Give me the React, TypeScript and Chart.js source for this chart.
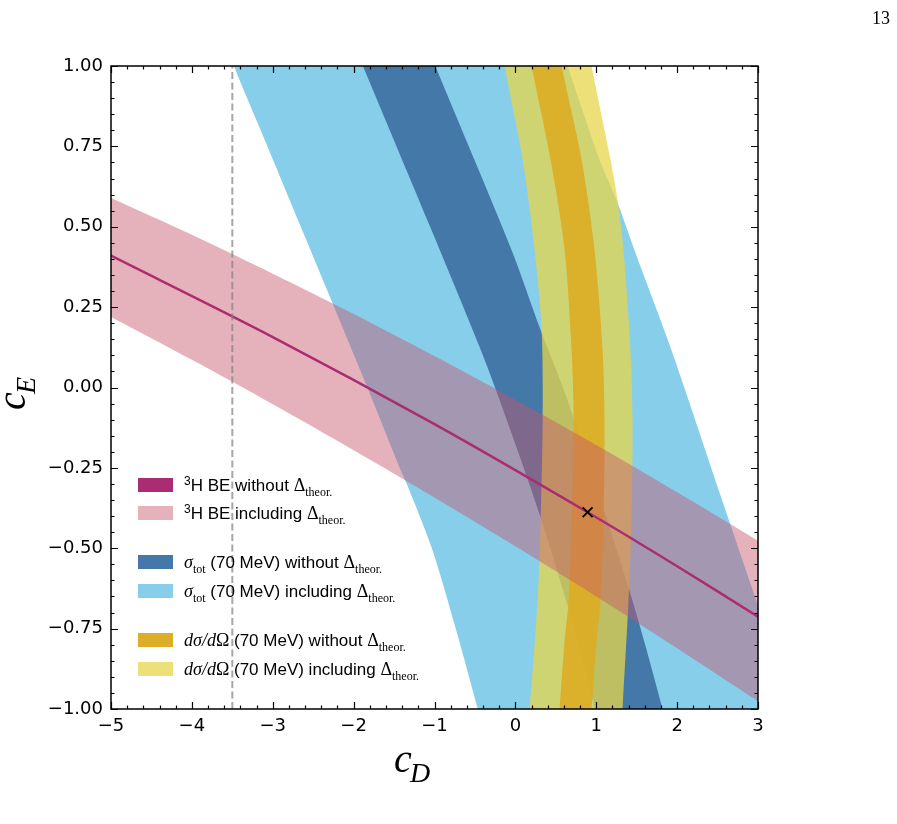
import React, { useEffect, useRef } from "react";
import { Chart, registerables } from "chart.js";
Chart.register(...registerables);

// ---- Data (cD, cE) ----
const xTicks = [-5, -4, -3, -2, -1, 0, 1, 2, 3];
const yTicks = [-1, -0.75, -0.5, -0.25, 0, 0.25, 0.5, 0.75, 1];

// sigma_tot including theory error (light blue): left edge top->bottom, right edge bottom->top
const sigmaInclLeft = [
  { x: -3.54, y: 1.05 }, { x: -3.48, y: 1.0 }, { x: -3.065, y: 0.75 }, { x: -2.653, y: 0.5 },
  { x: -2.24, y: 0.25 }, { x: -1.83, y: 0.0 }, { x: -1.43, y: -0.25 }, { x: -1.342, y: -0.3 },
  { x: -1.033, y: -0.5 }, { x: -0.737, y: -0.75 }, { x: -0.465, y: -1.0 }, { x: -0.42, y: -1.05 },
];
const sigmaInclRight = [
  { x: 3.5, y: -1.05 }, { x: 2.991, y: -0.672 }, { x: 2.559, y: -0.352 }, { x: 1.93, y: 0.116 },
  { x: 1.473, y: 0.427 }, { x: 1.251, y: 0.583 }, { x: 1.041, y: 0.708 }, { x: 0.646, y: 1.0 }, { x: 0.58, y: 1.05 },
];
// sigma_tot without theory error (dark blue)
const sigmaLeft = [
  { x: -1.93, y: 1.03 }, { x: -1.885, y: 1.0 }, { x: -1.054, y: 0.5 }, { x: -0.441, y: 0.125 },
  { x: -0.194, y: -0.04 }, { x: 0.306, y: -0.4 }, { x: 0.769, y: -0.787 }, { x: 0.979, y: -0.999 }, { x: 0.99, y: -1.03 },
];
const sigmaRight = [
  { x: 1.83, y: -1.03 }, { x: 1.819, y: -0.999 }, { x: 1.411, y: -0.632 }, { x: 0.646, y: -0.04 },
  { x: 0.3, y: 0.187 }, { x: -0.046, y: 0.427 }, { x: -0.99, y: 1.0 }, { x: -1.03, y: 1.03 },
];
// dsigma/dOmega including theory error (light yellow)
const dsdoInclLeft = [
  { x: -0.14, y: 1.03 }, { x: -0.132, y: 1.0 }, { x: 0.09, y: 0.708 }, { x: 0.238, y: 0.427 }, { x: 0.325, y: 0.178 },
  { x: 0.337, y: -0.102 }, { x: 0.312, y: -0.414 }, { x: 0.275, y: -0.663 }, { x: 0.177, y: -0.999 }, { x: 0.17, y: -1.03 },
];
const dsdoInclRight = [
  { x: 1.32, y: -1.03 }, { x: 1.325, y: -0.999 }, { x: 1.399, y: -0.663 }, { x: 1.436, y: -0.414 }, { x: 1.448, y: -0.102 },
  { x: 1.423, y: 0.116 }, { x: 1.337, y: 0.427 }, { x: 1.263, y: 0.583 }, { x: 1.177, y: 0.708 }, { x: 0.942, y: 1.0 }, { x: 0.93, y: 1.03 },
];
// dsigma/dOmega without theory error (gold)
const dsdoLeft = [
  { x: 0.19, y: 1.03 }, { x: 0.201, y: 1.0 }, { x: 0.436, y: 0.708 }, { x: 0.609, y: 0.427 }, { x: 0.695, y: 0.116 },
  { x: 0.72, y: -0.102 }, { x: 0.695, y: -0.414 }, { x: 0.658, y: -0.663 }, { x: 0.609, y: -0.787 }, { x: 0.547, y: -0.999 }, { x: 0.54, y: -1.03 },
];
const dsdoRight = [
  { x: 0.935, y: -1.03 }, { x: 0.942, y: -0.999 }, { x: 1.004, y: -0.787 }, { x: 1.053, y: -0.663 }, { x: 1.09, y: -0.414 },
  { x: 1.102, y: -0.102 }, { x: 1.078, y: 0.116 }, { x: 0.979, y: 0.427 }, { x: 0.819, y: 0.708 }, { x: 0.572, y: 1.0 }, { x: 0.56, y: 1.03 },
];
// 3H binding energy band (pink): upper edge left->right, lower edge right->left
const beInclUpper = [
  { x: -5.2, y: 0.612 }, { x: -4, y: 0.475 }, { x: -3, y: 0.354 }, { x: -2, y: 0.229 }, { x: -1, y: 0.098 },
  { x: 0, y: -0.038 }, { x: 1, y: -0.179 }, { x: 2, y: -0.326 }, { x: 3, y: -0.477 }, { x: 3.2, y: -0.508 },
];
const beInclLower = [
  { x: 3.2, y: -1.01 }, { x: 3, y: -0.976 }, { x: 2, y: -0.811 }, { x: 1, y: -0.65 }, { x: 0, y: -0.494 },
  { x: -1, y: -0.342 }, { x: -2, y: -0.195 }, { x: -3, y: -0.052 }, { x: -4, y: 0.086 }, { x: -5.2, y: 0.246 },
];
// 3H binding energy central line
const beLine = [
  { x: -5, y: 0.41 }, { x: -3, y: 0.157 }, { x: -1, y: -0.114 }, { x: 0.893, y: -0.388 }, { x: 2, y: -0.556 }, { x: 3, y: -0.713 },
];
const cutLine = [{ x: -3.5, y: -1 }, { x: -3.5, y: 1 }];
const bestFit = [{ x: 0.893, y: -0.388 }];

// ---- Styles ----
const C_LB = "rgb(135,206,235)";
const C_DB = "rgb(68,120,168)";
const C_YL = "rgba(231,214,75,0.75)";
const C_GD = "rgba(220,172,36,0.92)";
const C_PK = "rgba(198,84,107,0.45)";
const C_LINE = "rgb(170,45,115)";

const SANS = "'Liberation Sans', Arial, sans-serif";
const SERIF = "'Liberation Serif', 'DejaVu Serif', serif";

type Run = { t: string; f: string; dy?: number };
const DELTA: Run[] = [
  { t: "Δ", f: `18px ${SERIF}` },
  { t: "theor.", f: `12px ${SERIF}`, dy: 5 },
];
const legendLabels: Run[][] = [
  [{ t: "3", f: `12px ${SANS}`, dy: -6 }, { t: "H BE without ", f: `17px ${SANS}` }, ...DELTA],
  [{ t: "3", f: `12px ${SANS}`, dy: -6 }, { t: "H BE including ", f: `17px ${SANS}` }, ...DELTA],
  [{ t: "σ", f: `italic 18px ${SERIF}` }, { t: "tot", f: `12px ${SERIF}`, dy: 5 }, { t: " (70 MeV) without ", f: `17px ${SANS}` }, ...DELTA],
  [{ t: "σ", f: `italic 18px ${SERIF}` }, { t: "tot", f: `12px ${SERIF}`, dy: 5 }, { t: " (70 MeV) including ", f: `17px ${SANS}` }, ...DELTA],
  [{ t: "dσ/d", f: `italic 18px ${SERIF}` }, { t: "Ω", f: `18px ${SERIF}` }, { t: " (70 MeV) without ", f: `17px ${SANS}` }, ...DELTA],
  [{ t: "dσ/d", f: `italic 18px ${SERIF}` }, { t: "Ω", f: `18px ${SERIF}` }, { t: " (70 MeV) including ", f: `17px ${SANS}` }, ...DELTA],
];
const legendColors = [C_LINE, "rgb(229,178,188)", C_DB, C_LB, "rgb(220,174,40)", "rgb(237,224,120)"];
const legendRowsY = [485, 513, 562, 591, 640, 669];

function drawRuns(ctx: CanvasRenderingContext2D, runs: Run[], x: number, y: number) {
  let cx = x;
  for (const r of runs) {
    ctx.font = r.f;
    ctx.fillText(r.t, cx, y + (r.dy || 0));
    cx += ctx.measureText(r.t).width;
  }
}

const fmtMinus = (s: string) => s.replace("-", "\u2212");

const decorPlugin = {
  id: "decor",
  afterDraw(chart: any) {
    const ctx: CanvasRenderingContext2D = chart.ctx;
    const { left, right, top, bottom } = chart.chartArea;
    const xs = chart.scales.x;
    const ys = chart.scales.y;
    ctx.save();
    // frame
    ctx.strokeStyle = "#000";
    ctx.lineWidth = 1.5;
    ctx.strokeRect(left, top, right - left, bottom - top);
    // inward ticks
    ctx.lineWidth = 1.2;
    ctx.beginPath();
    for (let i = 0; i <= 40; i++) {
      const v = -5 + i * 0.2;
      const px = Math.round(xs.getPixelForValue(v)) + 0.5;
      const len = i % 5 === 0 ? 7 : 3.5;
      ctx.moveTo(px, bottom); ctx.lineTo(px, bottom - len);
      ctx.moveTo(px, top); ctx.lineTo(px, top + len);
    }
    for (let i = 0; i <= 40; i++) {
      const v = -1 + i * 0.05;
      const py = Math.round(ys.getPixelForValue(v)) + 0.5;
      const len = i % 5 === 0 ? 7 : 3.5;
      ctx.moveTo(left, py); ctx.lineTo(left + len, py);
      ctx.moveTo(right, py); ctx.lineTo(right - len, py);
    }
    ctx.stroke();

    // axis titles
    ctx.fillStyle = "#000";
    ctx.textAlign = "left";
    ctx.textBaseline = "alphabetic";
    ctx.font = `italic 40px ${SERIF}`;
    ctx.fillText("c", 394, 772);
    ctx.font = `italic 28px ${SERIF}`;
    ctx.fillText("D", 410, 782);
    ctx.save();
    ctx.translate(25, 410);
    ctx.rotate(-Math.PI / 2);
    ctx.font = `italic 40px ${SERIF}`;
    ctx.fillText("c", 0, 0);
    ctx.font = `italic 28px ${SERIF}`;
    ctx.fillText("E", 16, 10);
    ctx.restore();

    // legend
    legendLabels.forEach((runs, i) => {
      const cy = legendRowsY[i];
      ctx.fillStyle = legendColors[i];
      ctx.fillRect(138, cy - 7, 35, 14);
      ctx.fillStyle = "#000";
      drawRuns(ctx, runs, 184, cy + 6);
    });

    // page number
    ctx.font = `18px ${SERIF}`;
    ctx.textAlign = "right";
    ctx.fillText("13", 890, 24);
    ctx.restore();
  },
};

const band = (data: any[], color: string, order: number) => ({
  data,
  backgroundColor: color,
  borderColor: "transparent",
  borderWidth: 0,
  pointRadius: 0,
  fill: "shape",
  tension: 0.3,
  order,
});

export default function App() {
  const ref = useRef<HTMLCanvasElement>(null);
  useEffect(() => {
    document.body.style.margin = "0";
    const canvas = ref.current!;
    const tickFont = { family: "'DejaVu Sans', sans-serif", size: 18 };
    const chart = new Chart(canvas, {
      type: "line",
      data: {
        datasets: [
          band([...sigmaInclLeft, ...sigmaInclRight], C_LB, 10),
          band([...sigmaLeft, ...sigmaRight], C_DB, 9),
          band([...dsdoInclLeft, ...dsdoInclRight], C_YL, 8),
          band([...dsdoLeft, ...dsdoRight], C_GD, 7),
          band([...beInclUpper, ...beInclLower], C_PK, 6),
          {
            data: beLine, borderColor: C_LINE, borderWidth: 2.5, pointRadius: 0, fill: false, tension: 0.3, order: 5,
          },
          {
            data: cutLine, borderColor: "rgba(128,128,128,0.7)", borderWidth: 2, borderDash: [7, 3.5],
            pointRadius: 0, fill: false, order: 4,
          },
          {
            data: bestFit, showLine: false, pointStyle: "crossRot", pointRadius: 7, borderColor: "#000",
            backgroundColor: "#000", pointBorderWidth: 1.8, order: 3,
          } as any,
        ] as any,
      },
      options: {
        animation: false,
        responsive: false,
        maintainAspectRatio: false,
        devicePixelRatio: 1,
        layout: { padding: { left: 0, top: 66, right: 139, bottom: 0 } },
        plugins: { legend: { display: false }, tooltip: { enabled: false } },
        elements: { line: { borderWidth: 0 } },
        scales: {
          x: {
            type: "linear", min: -5, max: 3,
            grid: { display: false, drawTicks: false },
            border: { display: false },
            afterBuildTicks: (s: any) => { s.ticks = xTicks.map((v) => ({ value: v })); },
            ticks: {
              color: "#000", font: tickFont, padding: 7, maxRotation: 0,
              callback: (v: any) => fmtMinus(String(v)),
            },
            afterFit: (s: any) => { s.height = 115; },
          },
          y: {
            type: "linear", min: -1, max: 1,
            grid: { display: false, drawTicks: false },
            border: { display: false },
            afterBuildTicks: (s: any) => { s.ticks = yTicks.map((v) => ({ value: v })); },
            ticks: {
              color: "#000", font: tickFont, padding: 8,
              callback: (v: any) => fmtMinus(Number(v).toFixed(2)),
            },
            afterFit: (s: any) => { s.width = 111; },
          },
        },
      },
      plugins: [decorPlugin],
    });
    return () => chart.destroy();
  }, []);
  return (
    <div style={{ width: 897, height: 824, position: "relative", background: "#fff" }}>
      <canvas ref={ref} width={897} height={824} style={{ display: "block", width: 897, height: 824 }} />
    </div>
  );
}
